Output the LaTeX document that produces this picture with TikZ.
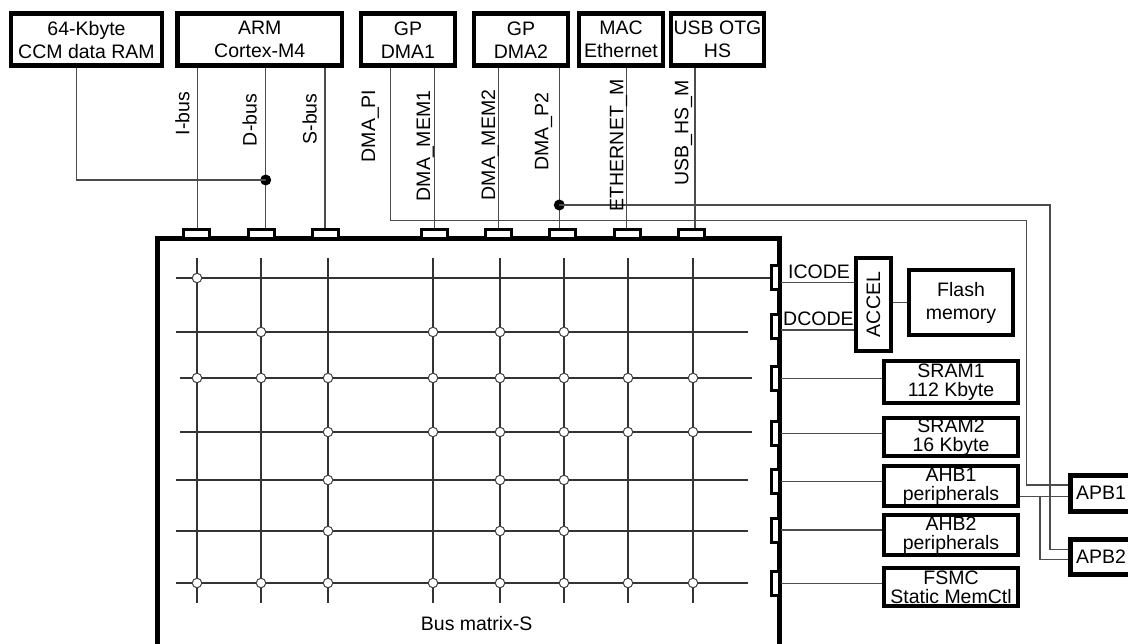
\documentclass[tikz,border=0pt]{standalone}
\usepackage{fontspec}
\setmainfont{Liberation Sans}
\usepackage{graphicx}
\begin{document}
\begin{tikzpicture}[x=1pt,y=-1pt,
  bx/.style={draw=black, line width=4.6pt, rectangle, inner sep=0pt, align=center, font=\fontsize{19.5}{23}\selectfont},
  rbx/.style={bx, line width=4.8pt, font=\fontsize{19.5}{19}\selectfont},
  port/.style={draw=black, line width=3pt, rectangle, inner sep=0pt},
  wire/.style={draw=black!70, line width=1.2pt},
  gridline/.style={draw=black!80, line width=1.3pt},
  junc/.style={circle, draw=black!75, line width=1pt, fill=white, minimum size=9.5pt, inner sep=0pt},
  dotn/.style={circle, fill=black, minimum size=11pt, inner sep=0pt},
  lbl/.style={font=\fontsize{19.5}{23}\selectfont, inner sep=0pt},
  vlbl/.style={lbl, rotate=90, anchor=base}
]
\useasboundingbox (0,0) rectangle (1128,644);
\clip (0,0) rectangle (1128,644);

% ---------- top masters ----------
\node[bx, minimum width=151pt, minimum height=52pt] (ccm) at (86.5,39.7) {64-Kbyte\\CCM data RAM};
\node[bx, minimum width=164.5pt, minimum height=52pt] (arm) at (259.75,39.7) {ARM\\Cortex-M4};
\node[bx, minimum width=94pt, minimum height=52pt] (dma1) at (408,39.7) {GP\\DMA1};
\node[bx, minimum width=94pt, minimum height=52pt] (dma2) at (521,39.7) {GP\\DMA2};
\node[bx, minimum width=84pt, minimum height=52pt] (mac) at (621,39.7) {MAC\\Ethernet};
\node[bx, minimum width=93pt, minimum height=52pt] (usb) at (717.5,39.7) {USB OTG\\HS};

% ---------- bus matrix box ----------
\node[draw=black, line width=4.8pt, rectangle, minimum width=622pt, minimum height=461.5pt, inner sep=0pt] (bm) at (468.5,469.25) {};
\node[lbl] (bmlabel) at (476.7,624) {Bus matrix-S};

% ---------- top ports ----------
\foreach \n/\x in {pI/196.7, pD/261, pS/325.5, pM1/434.7, pM2/498.3, pP2/562.8, pE/627.3, pU/691.3}
  \node[port, fill=white, minimum width=26pt, minimum height=9.5pt] (\n) at (\x,233.8) {};

% ---------- right ports ----------
\foreach \n/\y in {rI/278, rD/326.7, rS1/378.3, rS2/433.3, rA1/481.7, rA2/530, rF/583.3}
  \node[port, fill=white, minimum width=8pt, minimum height=24pt] (\n) at (775.4,\y) {};

% ---------- grid ----------
\foreach \x [count=\i] in {197,261,328,433,500,564,628,693}
  \coordinate (c\i) at (\x,0);
\foreach \y [count=\i] in {278,332,378,432,480,531,583}
  \coordinate (r\i) at (0,\y);
\coordinate (gtop) at (0,258);
\coordinate (gbot) at (0,603);
\foreach \i in {1,...,8}
  \draw[gridline] (c\i |- gtop) -- (c\i |- gbot);
\draw[gridline] (176,278) -- (rI.west);
\foreach \y/\xa/\xb in {332/176/748, 378/180/752, 432/180/752, 480/176/748, 531/176/748, 583/176/748}
  \draw[gridline] (\xa,\y) -- (\xb,\y);
\foreach \r/\cols in {1/{1}, 2/{2,4,5,6}, 3/{1,2,3,4,5,6,7,8}, 4/{3,4,5,6,7,8}, 5/{3,5,6}, 6/{3,5,6}, 7/{1,2,3,4,5,6,7,8}}
  \foreach \c in \cols
    \node[junc] (j\r-\c) at (c\c |- r\r) {};

% ---------- bus lines from masters ----------
\coordinate (xCCM) at (76.7,0);
\coordinate (xI) at (197.3,0);
\coordinate (xD) at (265.7,0);
\coordinate (xS) at (325,0);
\coordinate (xPI) at (390.7,0);
\coordinate (xM1) at (434.3,0);
\coordinate (xM2) at (498.3,0);
\coordinate (xP2) at (559.3,0);
\coordinate (xE) at (626.7,0);
\coordinate (xU) at (695,0);

\draw[wire] (arm.south -| xI) -- (pI.north -| xI);
\draw[wire] (arm.south -| xD) -- (pD.north -| xD);
\draw[wire] (arm.south -| xS) -- (pS.north -| xS);
\draw[wire] (dma1.south -| xM1) -- (pM1.north -| xM1);
\draw[wire] (dma2.south -| xM2) -- (pM2.north -| xM2);
\draw[wire] (dma2.south -| xP2) -- (pP2.north -| xP2);
\draw[wire] (mac.south -| xE) -- (pE.north -| xE);
\draw[wire] (usb.south -| xU) -- (pU.north -| xU);

\node[dotn] (dD) at (265.7,180) {};
\draw[wire] (ccm.south -| xCCM) |- (dD.center);

% DMA peripheral ports to APB bridges
\coordinate (kPI) at (1026.7,220.7);
\draw[wire] (dma1.south -| xPI) |- (kPI) |- (1068,485) coordinate (ePI);
\node[dotn] (dP2) at (559.3,205) {};
\coordinate (kP2) at (1050,205);
\draw[wire] (dP2.center) -- (kP2) |- (1068,549.3) coordinate (eP2);

% ---------- rotated bus labels ----------
\node[vlbl] (lI) at (189.3,113.5) {I-bus};
\node[vlbl] (lD) at (256.7,120) {D-bus};
\node[vlbl] (lS) at (316.7,119) {S-bus};
\node[vlbl] (lPI) at (375,126) {DMA\_PI};
\node[vlbl] (lM1) at (430,146) {DMA\_MEM1};
\node[vlbl] (lM2) at (495,145) {DMA\_MEM2};
\node[vlbl] (lP2) at (548.3,131.7) {DMA\_P2};
\node[vlbl] (lE) at (623.3,145) {ETHERNET\_M};
\node[vlbl] (lU) at (688.3,133) {USB\_HS\_M};

% ---------- slaves ----------
\node[bx, line width=3.2pt, minimum width=35pt, minimum height=93pt] (accel) at (873.5,304.5) {\rotatebox{90}{ACCEL}};
\node[bx, line width=4.8pt, minimum width=104pt, minimum height=65pt] (flash) at (961,302.5) {Flash\\memory};
\node[rbx, minimum width=134pt, minimum height=42pt] (sram1) at (951,382) {SRAM1\\112 Kbyte};
\node[rbx, minimum width=134pt, minimum height=38pt] (sram2) at (951,437) {SRAM2\\16 Kbyte};
\node[rbx, minimum width=134pt, minimum height=40pt] (ahb1) at (951,486) {AHB1\\peripherals};
\node[rbx, minimum width=134pt, minimum height=40pt] (ahb2) at (951,535) {AHB2\\peripherals};
\node[rbx, minimum width=134pt, minimum height=38pt] (fsmc) at (951,587) {FSMC\\Static MemCtl};
\node[bx, line width=5pt, minimum width=62pt, minimum height=36pt] (apb1) at (1101,493) {APB1};
\node[bx, line width=5pt, minimum width=62pt, minimum height=35pt] (apb2) at (1101,557) {APB2};

% ---------- slave connections ----------
\coordinate (yIC) at (0,282.3);
\coordinate (yDC) at (0,330);
\coordinate (yAF) at (0,302.3);
\draw[wire] (rI.east |- yIC) -- (accel.west |- yIC);
\draw[wire] (rD.east |- yDC) -- (accel.west |- yDC);
\draw[wire] (accel.east |- yAF) -- (flash.west |- yAF);
\node[lbl, anchor=base west] (icode) at (788,279) {ICODE};
\node[lbl, anchor=base west] (dcode) at (783,326) {DCODE};
\draw[wire] (rS1.east) -- (rS1.east -| sram1.west);
\draw[wire] (rS2.east) -- (rS2.east -| sram2.west);
\draw[wire] (rA1.east) -- (rA1.east -| ahb1.west);
\draw[wire] (rA2.east) -- (rA2.east -| ahb2.west);
\draw[wire] (rF.east) -- (rF.east -| fsmc.west);

% AHB1 to APB bridges
\coordinate (yAH) at (0,496.7);
\coordinate (kB) at (1040,496.7);
\draw[wire] (ahb1.east |- yAH) -- (apb1.west |- yAH);
\draw[wire] (kB) |- (apb2.west |- 0,559.3);
\end{tikzpicture}
\end{document}
